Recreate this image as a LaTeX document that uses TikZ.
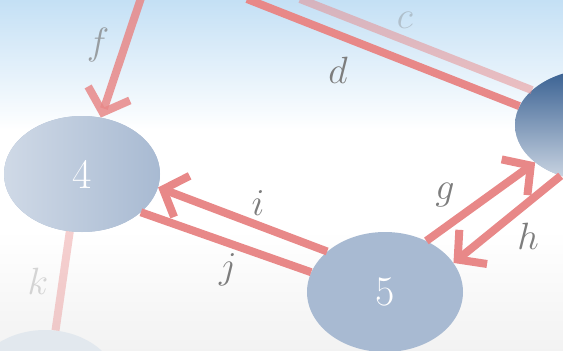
\RequirePackage{fix-cm}
\documentclass[tikz,border=0pt]{standalone}
\usetikzlibrary{shapes.geometric,arrows.meta}
\definecolor{edgered}{RGB}{232,136,136}
\definecolor{nodeblue}{RGB}{168,186,210}
\definecolor{labelgray}{RGB}{125,125,125}
\definecolor{skyblue}{RGB}{196,224,245}
\definecolor{darkblue}{RGB}{55,95,145}
\definecolor{palenode}{RGB}{226,232,238}
\begin{document}
\begin{tikzpicture}[x=1pt,y=-1pt,
  vert/.style={ellipse,minimum width=156pt,minimum height=116pt,inner sep=0pt,
    fill=nodeblue,text=white,font=\fontsize{42}{44}\selectfont},
  edge/.style={draw=edgered,line width=8pt},
  arr/.style={edge,-{Straight Barb[length=20pt,width=44pt]}},
  lbl/.style={text=labelgray,font=\fontsize{38}{40}\selectfont}]
\useasboundingbox (0,0) rectangle (563,351);
\fill[white] (0,0) rectangle (563,351);
\shade[top color=skyblue,bottom color=white] (0,0) rectangle (563,130);
\shade[top color=white,bottom color=white!90!gray] (0,230) rectangle (563,351);
% nodes
\node[vert,left color=nodeblue!55!white,right color=nodeblue] (n4) at (82,174) {4};
\node[vert,minimum height=120pt] (n5) at (385,292) {5};
\node[vert,minimum width=160pt,minimum height=112pt,top color=darkblue,bottom color=darkblue!25!white] (n3) at (595,125) {};
\node[vert,minimum width=150pt,minimum height=120pt,fill=palenode] (n6) at (45,390) {};
% free ends
\coordinate (ftop) at (142,-5);
\coordinate (ctop) at (300,-1);
\coordinate (dtop) at (247,-1);
% edges
\draw[arr,opacity=0.85] (ftop) -- (n4);
\draw[edge,opacity=0.5] (ctop) -- (n3.151);
\draw[edge] (dtop) -- (n3.166);
\draw[arr] (n5.145) -- (n4.-10);
\draw[edge] (n5.165) -- (n4.-33);
\draw[arr] (n5.51) -- (n3.212);
\draw[arr] (n3.236) -- (n5.23);
\draw[edge,opacity=0.4] (n4.-102) -- (n6.80);
% labels
\node[lbl,opacity=0.7] (lf) at (98,45) {$f$};
\node[lbl,opacity=0.35,inner sep=0pt] (lc) at (405,20) {$c$};
\node[lbl] (ld) at (338,70) {$d$};
\node[lbl] (li) at (258,203) {$i$};
\node[lbl] (lj) at (228,270) {$j$};
\node[lbl] (lg) at (445,195) {$g$};
\node[lbl] (lh) at (528,236) {$h$};
\node[lbl,opacity=0.3] (lk) at (38,281) {$k$};
\end{tikzpicture}
\end{document}
